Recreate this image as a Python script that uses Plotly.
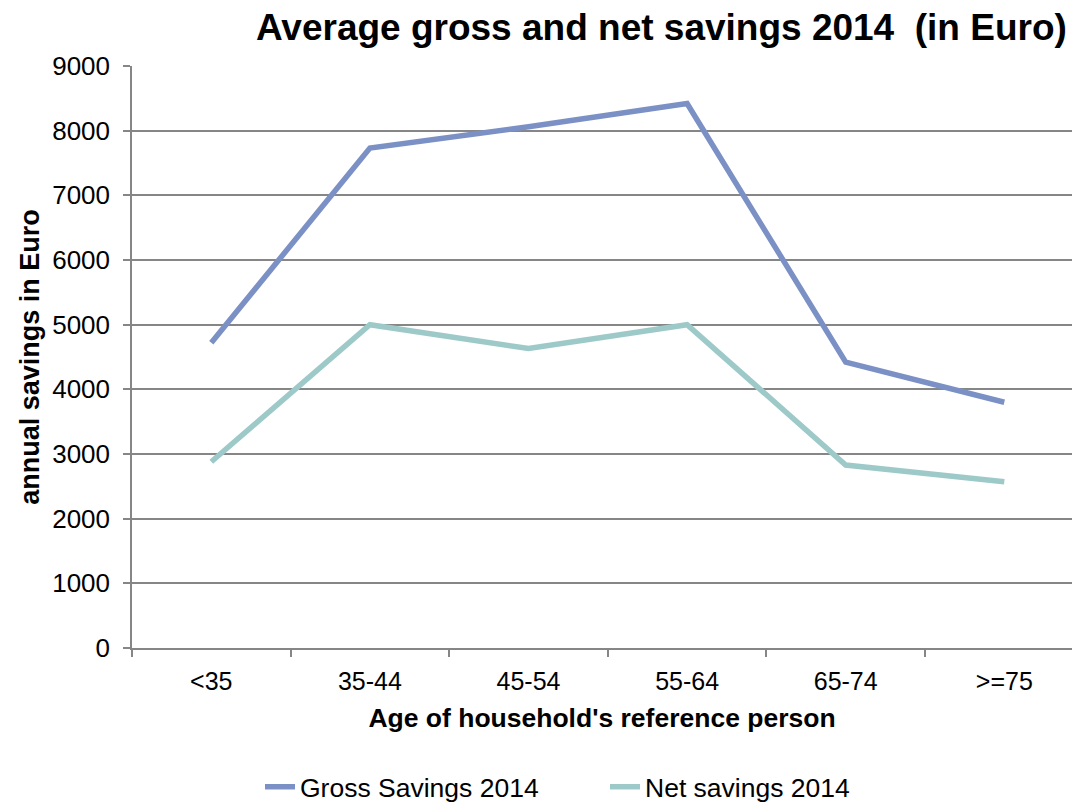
import plotly.graph_objects as go

categories = ["<35", "35-44", "45-54", "55-64", "65-74", ">=75"]
gross_savings = [4720, 7730, 8060, 8420, 4420, 3800]
net_savings = [2880, 5000, 4630, 5000, 2830, 2570]
y_ticks = [0, 1000, 2000, 3000, 4000, 5000, 6000, 7000, 8000, 9000]

FONT = "Liberation Sans, Arial, sans-serif"
GRID = "#868686"

fig = go.Figure()
fig.add_trace(go.Scatter(x=categories, y=gross_savings, mode="lines",
                         name="Gross Savings 2014",
                         line=dict(color="#7B91C5", width=5.5)))
fig.add_trace(go.Scatter(x=categories, y=net_savings, mode="lines",
                         name="Net savings 2014",
                         line=dict(color="#9DCAC8", width=5.5)))

fig.update_layout(
    width=1072, height=803,
    margin=dict(l=132, r=0, t=66, b=155, autoexpand=False),
    paper_bgcolor="white", plot_bgcolor="white",
    font=dict(family=FONT, size=25, color="black"),
    title=dict(text="<b>Average gross and net savings 2014  (in Euro)</b>",
               x=0.617, xanchor="center", xref="container",
               y=1 - 27 / 803, yanchor="middle", yref="container",
               font=dict(size=37, family=FONT, color="black")),
    showlegend=True,
    legend=dict(orientation="h", x=(260 - 132) / 940, xanchor="left",
                y=-(787 - 648) / 582, yanchor="middle",
                font=dict(size=26.5, family=FONT), entrywidth=300,
                bgcolor="rgba(0,0,0,0)"),
    hovermode=False,
)

fig.update_xaxes(
    type="category", categoryorder="array", categoryarray=categories,
    range=[-0.5, -0.5 + 940 / 158.6], automargin=False,
    showgrid=False, showline=True, linecolor=GRID, linewidth=1.5,
    ticks="outside", tickson="boundaries", ticklen=7, tickcolor=GRID, tickwidth=1.5,
    ticklabelstandoff=10,
    tickfont=dict(size=25, family=FONT, color="black"),
    title=dict(text="<b>Age of household's reference person</b>",
               font=dict(size=26.5, family=FONT, color="black"), standoff=15),
    zeroline=False,
)
fig.update_yaxes(
    range=[0, 9000], tickvals=y_ticks, ticktext=[str(v) for v in y_ticks],
    automargin=False,
    showgrid=True, gridcolor=GRID, gridwidth=1.5,
    showline=True, linecolor=GRID, linewidth=1.5,
    ticks="outside", ticklen=7, tickcolor=GRID, tickwidth=1.5,
    ticklabelstandoff=8,
    tickfont=dict(size=26, family=FONT, color="black"),
    title=dict(text="<b>annual savings in Euro</b>",
               font=dict(size=27, family=FONT, color="black"), standoff=5),
    zeroline=False,
)

fig.write_html("out.html")
